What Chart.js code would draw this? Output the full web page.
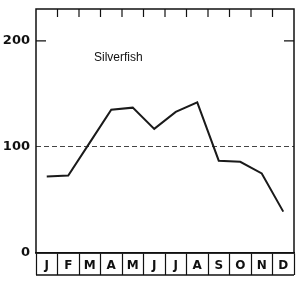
<!DOCTYPE html>
<html>
<head>
<meta charset="utf-8">
<script src="https://cdn.jsdelivr.net/npm/chart.js@4/dist/chart.umd.min.js"></script>
<style>
  html, body { margin: 0; padding: 0; background: #fff; }
  #c { display: block; }
</style>
</head>
<body>
<canvas id="c" width="300" height="285" style="width:300px;height:285px"></canvas>
<script>
const months = ['J', 'F', 'M', 'A', 'M', 'J', 'J', 'A', 'S', 'O', 'N', 'D'];
const silverfish = [72, 73, 104, 135, 137, 117, 133, 142, 87, 86, 75, 39];
const yTickValues = [0, 100, 200];
const referenceLine = [100];
const innerTickValues = [200];
const chartLabel = 'Silverfish';

const framePlugin = {
  id: 'frame',
  afterDraw(chart) {
    const ctx = chart.ctx;
    const a = chart.chartArea;
    const xs = chart.scales.x;
    const ys = chart.scales.y;
    ctx.save();
    ctx.strokeStyle = '#111';
    ctx.lineWidth = 1.5;
    ctx.strokeRect(a.left, a.top, a.right - a.left, a.bottom - a.top);
    ctx.beginPath();
    ctx.moveTo(xs.left, xs.bottom);
    ctx.lineTo(xs.right, xs.bottom);
    ctx.stroke();
    ctx.lineWidth = 1.2;
    ctx.beginPath();
    for (let i = 0; i < months.length - 1; i++) {
      const x = (xs.getPixelForValue(i) + xs.getPixelForValue(i + 1)) / 2;
      ctx.moveTo(x, a.top);
      ctx.lineTo(x, a.top + 8);
    }
    innerTickValues.forEach(v => {
      const y = ys.getPixelForValue(v);
      ctx.moveTo(a.left, y);
      ctx.lineTo(a.left + 10, y);
      ctx.moveTo(a.right, y);
      ctx.lineTo(a.right - 10, y);
    });
    ctx.stroke();
    ctx.fillStyle = '#111';
    ctx.font = '12px "Liberation Sans", Arial, sans-serif';
    ctx.textAlign = 'left';
    ctx.textBaseline = 'middle';
    ctx.fillText(chartLabel, a.left + 58, a.top + 49);
    ctx.restore();
  }
};

new Chart(document.getElementById('c'), {
  type: 'line',
  data: {
    labels: months,
    datasets: [{
      data: silverfish,
      borderColor: '#1a1a1a',
      borderWidth: 2,
      pointRadius: 0,
      tension: 0,
      fill: false,
      clip: false
    }]
  },
  options: {
    responsive: false,
    devicePixelRatio: 1,
    animation: false,
    events: [],
    layout: { padding: { left: 0, right: 6, top: 9, bottom: 10 } },
    plugins: { legend: { display: false }, tooltip: { enabled: false }, title: { display: false } },
    scales: {
      x: {
        type: 'category',
        offset: true,
        afterFit(scale) { scale.height = 22; scale.paddingLeft = 0; scale.paddingRight = 0; },
        grid: {
          display: true,
          offset: true,
          drawOnChartArea: false,
          drawTicks: true,
          tickLength: 22,
          tickColor: '#111',
          tickWidth: 1.2,
          color: '#111'
        },
        border: { display: true, color: '#111', width: 1.5 },
        ticks: {
          color: '#111',
          padding: -16,
          maxRotation: 0,
          autoSkip: false,
          font: { family: '"DejaVu Sans", sans-serif', size: 12, weight: 'bold' }
        }
      },
      y: {
        type: 'linear',
        min: 0,
        max: 230,
        afterFit(scale) { scale.width = 36; scale.paddingTop = 0; scale.paddingBottom = 0; },
        afterBuildTicks(scale) { scale.ticks = yTickValues.map(v => ({ value: v })); },
        grid: {
          display: true,
          drawOnChartArea: true,
          drawTicks: false,
          color: ctx => (ctx.tick && referenceLine.includes(ctx.tick.value)) ? '#444' : 'rgba(0,0,0,0)',
          lineWidth: 1
        },
        border: { display: false, dash: [5, 3] },
        ticks: {
          color: '#111',
          padding: 6,
          font: { family: '"DejaVu Sans", sans-serif', size: 13, weight: 'bold' }
        }
      }
    }
  },
  plugins: [framePlugin]
});
</script>
</body>
</html>
